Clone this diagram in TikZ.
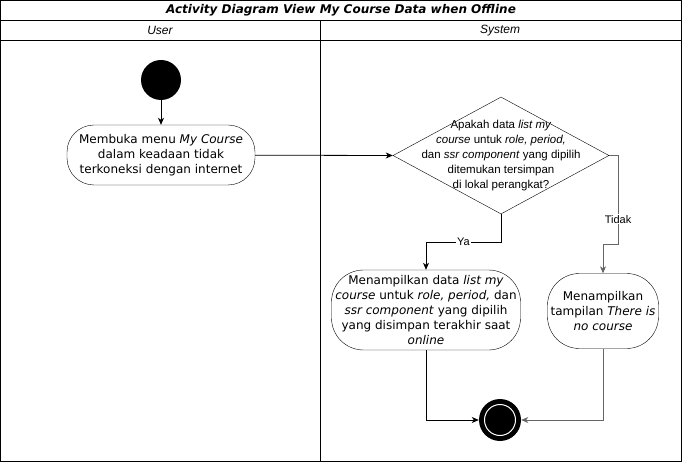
\documentclass[tikz,border=0pt]{standalone}
\usepackage{fontspec}
\setmainfont{DejaVu Sans}
\newfontfamily\arialfont{Liberation Sans}
\usepackage{tikz}
\usetikzlibrary{arrows.meta, shapes.geometric}
\tikzset{>={Stealth[length=7pt, width=6pt, inset=2pt]}}
\definecolor{linegray}{RGB}{102, 102, 102}

\tikzset{
  activity/.style = {draw, rounded corners = 27pt, align = center, inner sep = 0pt,
    font = \fontsize{12}{15}\selectfont},
  decision/.style = {draw, diamond, inner sep = 0pt, minimum width = 216pt, minimum height = 117pt},
  qtext/.style = {align = center, font = \arialfont\fontsize{11.5}{15}\selectfont},
  flow/.style = {->, line width = 0.8pt},
  lbl/.style = {fill = white, inner sep = 1pt, font = \arialfont\fontsize{11}{13}\selectfont},
  lanehead/.style = {font = \arialfont\fontsize{12}{14}\selectfont\itshape}
}

\begin{document}
\begin{tikzpicture}[x = 1pt, y = -1pt]
\useasboundingbox (0,0) rectangle (682,462);

% swimlanes
\draw[line width = 0.8pt] (0.5,0.5) rectangle (681.5,461.5);
\draw[line width = 0.8pt] (0.5,20) -- (681.5,20);
\draw[line width = 0.8pt] (0.5,40) -- (681.5,40);
\draw[line width = 0.8pt] (320,20) -- (320,461.5);
\node[font = \fontsize{12}{14}\selectfont\bfseries\itshape] (title) at (341,10) {Activity Diagram View My Course Data when Offline};
\node[lanehead] (user) at (160,30.5) {User};
\node[lanehead] (system) at (500,30.5) {System};

% nodes
\node[circle, fill = black, minimum size = 40pt, inner sep = 0pt] (start) at (161,80) {};
\node[activity, minimum width = 188pt, minimum height = 60pt] (open) at (161,155)
  {Membuka menu \textit{My Course}\\dalam keadaan tidak\\terkoneksi dengan internet};
\node[decision] (check) at (501,155.5) {};
\node[qtext] (checktext) at (check) {Apakah data \textit{list my}\\\textit{course} untuk \textit{role, period,}\\dan \textit{ssr component} yang dipilih\\ditemukan tersimpan\\di lokal perangkat?};
\node[activity, rounded corners = 32pt, minimum width = 189pt, minimum height = 80pt] (showdata) at (426,310)
  {Menampilkan data \textit{list my}\\\textit{course} untuk \textit{role, period,} dan\\\textit{ssr component} yang dipilih\\yang disimpan terakhir saat\\\textit{online}};
\node[activity, rounded corners = 32pt, minimum width = 111pt, minimum height = 75pt] (shownone) at (603,311)
  {Menampilkan\\tampilan \textit{There is}\\\textit{no course}};
\node[circle, fill = black, minimum size = 42pt, inner sep = 0pt] (finish) at (500,420) {};
\node[circle, draw = white, line width = 1pt, fill = black, minimum size = 31pt, inner sep = 0pt] (finishin) at (finish) {};

\coordinate (ya) at (426,242);
\coordinate (t1) at (618,155.5);
\coordinate (t2) at (618,244);
\coordinate (t3) at (603,244);

% connectors
\draw[flow] (start) -- (open);
\draw[flow] (open) -- (check.west);
\draw[flow] (check.south) |- node[lbl, pos = 0.75] {Ya} (ya) -- (showdata.north);
\draw[flow, linegray] (check.east) -- (t1) -- node[lbl, pos = 0.72, text = black] {Tidak} (t2) -- (t3) -- (shownone.north);
\draw[flow] (showdata.south) |- (finish.west);
\draw[flow, linegray] (shownone.south) |- (finish.east);

\end{tikzpicture}
\end{document}
